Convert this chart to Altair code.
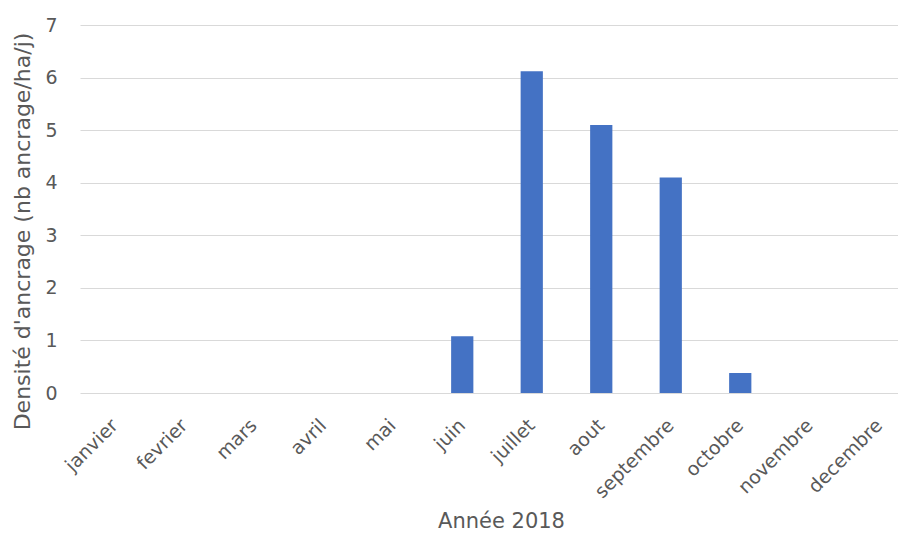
import altair as alt
import pandas as pd

months = ["janvier", "fevrier", "mars", "avril", "mai", "juin", "juillet",
          "aout", "septembre", "octobre", "novembre", "decembre"]
values = [0, 0, 0, 0, 0, 1.08, 6.12, 5.1, 4.1, 0.38, 0, 0]

df = pd.DataFrame({"mois": months, "densite": values})

FONT = "DejaVu Sans"
GREY = "#595959"

chart = alt.Chart(df).mark_bar(color="#4472C4").encode(
    x=alt.X("mois:N", sort=months,
            scale=alt.Scale(paddingInner=0.68, paddingOuter=0.34, range=[2, 836]),
            axis=alt.Axis(title="Année 2018", labelAngle=-45, labelAlign="right",
                          labelBaseline="middle", labelFontSize=19, labelColor=GREY,
                          labelFont=FONT, labelPadding=29,
                          titleFont=FONT, titleFontSize=21, titleColor=GREY,
                          titleFontWeight="normal", titleBaseline="alphabetic",
                          titleY=134, titleX=423,
                          ticks=False, domain=False)),
    y=alt.Y("densite:Q",
            scale=alt.Scale(domain=[0, 7], nice=False),
            axis=alt.Axis(title="Densité d'ancrage (nb ancrage/ha/j)", values=list(range(8)),
                          labelFontSize=19, labelColor=GREY, labelFont=FONT, labelPadding=21,
                          titleFont=FONT, titleFontSize=22, titleColor=GREY,
                          titleFontWeight="normal", titleAngle=-90, titleAlign="center",
                          titleBaseline="middle", titleX=-56, titleY=206,
                          ticks=False, domain=False, gridColor="#d9d9d9", gridWidth=1)),
).properties(
    width=820, height=368,
    autosize=alt.AutoSizeParams(type="none"),
    padding={"left": 70, "top": 17, "right": 0, "bottom": 141},
).configure_view(stroke=None)

chart.save("out.html", embed_options={"renderer": "svg", "actions": False})
